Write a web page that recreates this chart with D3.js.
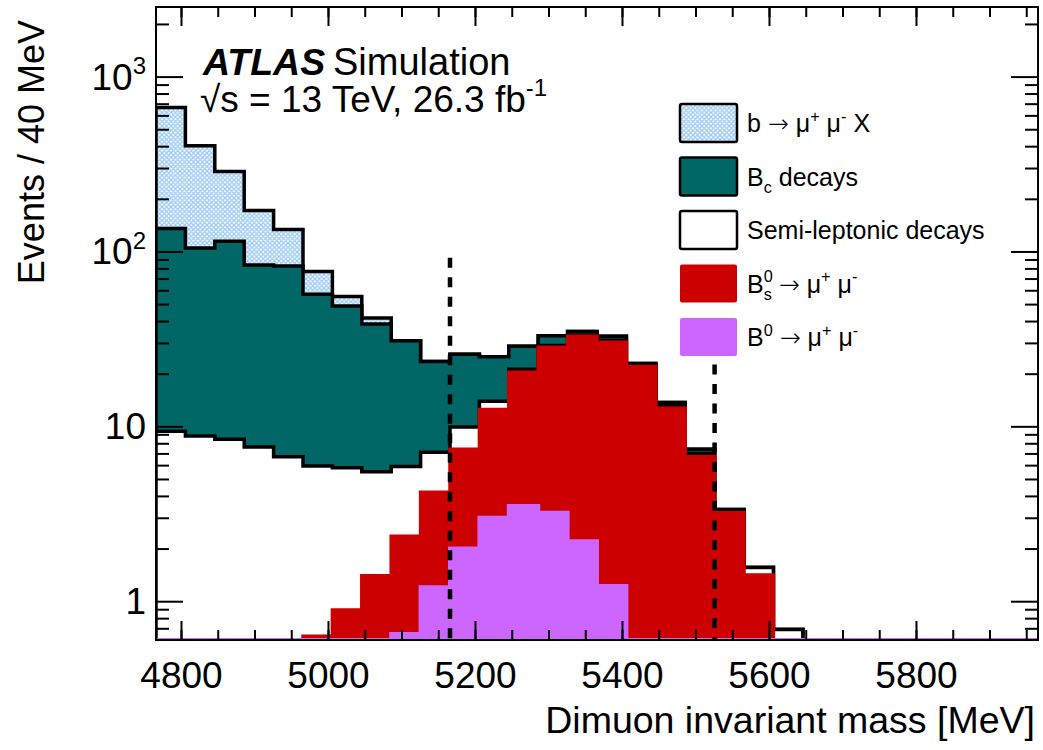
<!DOCTYPE html>
<html>
<head>
<meta charset="utf-8">
<script src="https://cdn.jsdelivr.net/npm/d3@7"></script>
<style>
  body { margin: 0; background: #fff; }
  text { font-family: "Liberation Sans", Arial, Helvetica, sans-serif; white-space: pre; }
</style>
</head>
<body>
<div id="chart"></div>
<script>
// bin edges (40 MeV bins)
const massEdges = [4766, 4806, 4846, 4886, 4926, 4966, 5006, 5046, 5086, 5126,
    5166, 5206, 5246, 5286, 5326, 5366, 5406, 5446, 5486, 5526,
    5566, 5606, 5646, 5686, 5726, 5766, 5806, 5846, 5886, 5926, 5966];

// events per bin
const bdMuMu = [0.02, 0.03, 0.04, 0.06, 0.1, 0.15, 0.25, 0.4, 0.65, 1.2,
    2.0, 3.0, 3.5, 3.2, 2.2, 1.22, 0.4, 0.2, 0.1, 0.05,
    0, 0, 0, 0, 0, 0, 0, 0, 0, 0];
const bsMuMu = [0.05, 0.07, 0.1, 0.15, 0.3, 0.48, 0.64, 1.0, 1.7, 3.0,
    5.4, 9.5, 16.9, 25.1, 30.5, 29.0, 21.6, 12.5, 6.6, 3.15,
    1.41, 0.3, 0.1, 0, 0, 0, 0, 0, 0, 0];
const semiLep = [9.3, 8.7, 8.3, 7.4, 6.3, 5.3, 4.9, 4.1, 3.55, 2.9,
    2.5, 1.4, 0.8, 0.7, 0.5, 0.8, 0.4, 0.4, 0.3, 0.1,
    0.15, 0.39, 0.2, 0, 0, 0, 0, 0, 0, 0];
const bcDecays = [126, 96, 106, 76, 76, 51, 43, 33, 25, 16.4,
    15.9, 11.1, 7.5, 4.0, 1.7, 1.7, 0.5, 0.6, 0.4, 0.05,
    0, 0, 0, 0, 0, 0, 0, 0, 0, 0];
const bMuMuX = [530, 298, 172, 88, 51, 20, 6.5, 3.2, 0, 0,
    0, 0, 0, 0, 0, 0, 0, 0, 0, 0,
    0, 0, 0, 0, 0, 0, 0, 0, 0, 0];

// signal window (dashed lines) and how high they reach
const windowMass = [5166, 5526];
const windowTop = [92, 22.6];

const xMajor = [4800, 5000, 5200, 5400, 5600, 5800];
const xMinor = [4800, 4850, 4900, 4950, 5000, 5050, 5100, 5150, 5200, 5250, 5300, 5350,
    5400, 5450, 5500, 5550, 5600, 5650, 5700, 5750, 5800, 5850, 5900, 5950];
const yMajor = [1, 10, 100, 1000];
const yLabels = ["1", "10", "10^{2}", "10^{3}"];
const yMinor = [0.7, 0.8, 0.9, 2, 3, 4, 5, 6, 7, 8, 9, 20, 30, 40, 50, 60, 70, 80, 90,
    200, 300, 400, 500, 600, 700, 800, 900, 2000];

const keys = ["bd", "bs", "semi", "bc", "bx"];
const legendLabels = ["b \u2192 \u03bc^{+} \u03bc^{-} X", "B_{c} decays", "Semi-leptonic decays",
    "B^{0}_{s} \u2192 \u03bc^{+} \u03bc^{-}", "B^{0} \u2192 \u03bc^{+} \u03bc^{-}"];
const legendKeys = ["bx", "bc", "semi", "bs", "bd"];

const fills = { bx: "url(#hatch)", bc: "#006666", semi: "#ffffff", bs: "#cc0000", bd: "#cc66ff" };
const strokes = { bx: "#000", bc: "#000", semi: "#000", bs: "#cc0000", bd: "#cc66ff" };

const width = 1043, height = 750;
const margin = { left: 156, top: 7, right: 5, bottom: 110 };
const yMin = 0.6, yMax = 2500;

const svg = d3.select("#chart").append("svg")
    .attr("width", width)
    .attr("height", height);

const x = d3.scaleLinear().domain([4766, 5966]).range([margin.left, width - margin.right]);
const y = d3.scaleLog().domain([yMin, yMax]).range([height - margin.bottom, margin.top]);

const defs = svg.append("defs");
const pat = defs.append("pattern")
    .attr("id", "hatch")
    .attr("patternUnits", "userSpaceOnUse")
    .attr("width", 4.5).attr("height", 4.5);
pat.append("rect").attr("width", 4.5).attr("height", 4.5).attr("fill", "#fff");
pat.append("path")
    .attr("d", "M0,0L4.5,4.5M4.5,0L0,4.5M-1,1L1,-1M3.5,5.5L5.5,3.5M-1,3.5L1,5.5M3.5,-1L5.5,1")
    .attr("stroke", "#9ccaf5").attr("stroke-width", 1.3);

defs.append("clipPath").attr("id", "plot-clip")
    .append("rect")
    .attr("x", margin.left).attr("y", margin.top)
    .attr("width", width - margin.left - margin.right)
    .attr("height", height - margin.top - margin.bottom);

// small helper for ROOT-like ^{} and _{} markup; arrows get a wider glyph
function richText(sel, str, size) {
    const re = /\^\{([^}]*)\}_\{([^}]*)\}|\^\{([^}]*)\}|_\{([^}]*)\}|(\u2192)|([^^_\u2192]+)/g;
    const small = size * 0.65, up = -size * 0.42, down = size * 0.28;
    let m, shift = 0;
    while ((m = re.exec(str))) {
        if (m[1] !== undefined) {
            const s1 = sel.append("tspan").attr("font-size", small).attr("dy", up - shift).text(m[1]);
            const w = s1.node().getComputedTextLength();
            sel.append("tspan").attr("font-size", small).attr("dx", -w).attr("dy", down - up).text(m[2]);
            shift = down;
        } else if (m[3] !== undefined) {
            sel.append("tspan").attr("font-size", small).attr("dy", up - shift).text(m[3]);
            shift = up;
        } else if (m[4] !== undefined) {
            sel.append("tspan").attr("font-size", small).attr("dy", down - shift).text(m[4]);
            shift = down;
        } else if (m[5] !== undefined) {
            sel.append("tspan").attr("dy", -shift)
                .style("font-family", "'DejaVu Sans', sans-serif")
                .attr("font-size", size)
                .attr("font-weight", 300)
                .text(m[5]);
            shift = 0;
        } else {
            sel.append("tspan").attr("dy", -shift).text(m[6]);
            shift = 0;
        }
    }
}

// stack the samples
const rows = massEdges.slice(0, -1).map((m, i) => ({
    mass: m, bd: bdMuMu[i], bs: bsMuMu[i], semi: semiLep[i], bc: bcDecays[i], bx: bMuMuX[i]
}));
const series = d3.stack().keys(keys)(rows);

function stepPoints(s) {
    const pts = [[x(massEdges[0]), y(yMin)]];
    s.forEach((d, i) => {
        const v = Math.max(d[1], yMin);
        pts.push([x(massEdges[i]), y(v)], [x(massEdges[i + 1]), y(v)]);
    });
    pts.push([x(massEdges[massEdges.length - 1]), y(yMin)]);
    return pts;
}

const line = d3.line();
const plot = svg.append("g").attr("clip-path", "url(#plot-clip)");

// ROOT draws the full stack first, then each lower sum on top
series.slice().reverse().forEach(s => {
    const pts = stepPoints(s);
    plot.append("path")
        .attr("d", line(pts) + "Z")
        .attr("fill", fills[s.key])
        .attr("stroke", "none");
    plot.append("path")
        .attr("d", line(pts))
        .attr("fill", "none")
        .attr("stroke", strokes[s.key])
        .attr("stroke-width", s.key === "bd" ? 4 : 3.5)
        .attr("stroke-linejoin", "miter");
});

// signal window
plot.selectAll(".window")
    .data(windowMass)
    .join("line")
    .attr("class", "window")
    .attr("x1", d => x(d)).attr("x2", d => x(d))
    .attr("y1", (d, i) => y(windowTop[i]))
    .attr("y2", y(yMin))
    .attr("stroke", "#000")
    .attr("stroke-width", 4.5)
    .attr("stroke-dasharray", "10,9.5");

// axes (ticks point inwards)
const bottomY = height - margin.bottom;
const rightX = width - margin.right;

function styleAxis(g) {
    g.select(".domain").remove();
    g.selectAll(".tick line").attr("stroke", "#000").attr("stroke-width", 2);
}

svg.append("g").attr("transform", `translate(0,${bottomY})`)
    .call(d3.axisBottom(x).tickValues(xMajor).tickSize(-19).tickPadding(22).tickFormat(d3.format("d")))
    .call(styleAxis)
    .call(g => g.selectAll("text")
        .attr("font-size", 37)
        .attr("fill", "#000")
        .attr("font-family", "Liberation Sans, Arial, sans-serif"));
svg.append("g").attr("transform", `translate(0,${bottomY})`)
    .call(d3.axisBottom(x).tickValues(xMinor).tickSize(-10).tickFormat(""))
    .call(styleAxis);
svg.append("g").attr("transform", `translate(0,${margin.top})`)
    .call(d3.axisTop(x).tickValues(xMajor).tickSize(-19).tickFormat(""))
    .call(styleAxis);
svg.append("g").attr("transform", `translate(0,${margin.top})`)
    .call(d3.axisTop(x).tickValues(xMinor).tickSize(-10).tickFormat(""))
    .call(styleAxis);

svg.append("g").attr("transform", `translate(${margin.left},0)`)
    .call(d3.axisLeft(y).tickValues(yMajor).tickSize(-27).tickFormat(""))
    .call(styleAxis);
svg.append("g").attr("transform", `translate(${margin.left},0)`)
    .call(d3.axisLeft(y).tickValues(yMinor).tickSize(-13).tickFormat(""))
    .call(styleAxis);
svg.append("g").attr("transform", `translate(${rightX},0)`)
    .call(d3.axisRight(y).tickValues(yMajor).tickSize(-27).tickFormat(""))
    .call(styleAxis);
svg.append("g").attr("transform", `translate(${rightX},0)`)
    .call(d3.axisRight(y).tickValues(yMinor).tickSize(-13).tickFormat(""))
    .call(styleAxis);

yMajor.forEach((v, i) => {
    const t = svg.append("text")
        .attr("x", margin.left - 10)
        .attr("y", y(v) + 13)
        .attr("text-anchor", "end")
        .attr("font-size", 37)
        .attr("fill", "#000");
    richText(t, yLabels[i], 37);
});

// frame
svg.append("rect")
    .attr("x", margin.left).attr("y", margin.top)
    .attr("width", rightX - margin.left)
    .attr("height", bottomY - margin.top)
    .attr("fill", "none")
    .attr("stroke", "#000")
    .attr("stroke-width", 2);

// axis titles
svg.append("text")
    .attr("x", rightX - 3).attr("y", 733)
    .attr("text-anchor", "end")
    .attr("font-size", 37.5)
    .text("Dimuon invariant mass [MeV]");
svg.append("text")
    .attr("transform", "translate(44,20) rotate(-90)")
    .attr("text-anchor", "end")
    .attr("font-size", 36)
    .text("Events / 40 MeV");

// ATLAS label
svg.append("text")
    .attr("x", 203).attr("y", 75)
    .attr("font-size", 37.5)
    .attr("font-weight", "bold")
    .attr("font-style", "italic")
    .text("ATLAS");
svg.append("text")
    .attr("x", 333).attr("y", 75)
    .attr("font-size", 38)
    .text("Simulation");
const lumi = svg.append("text")
    .attr("x", 200).attr("y", 112)
    .attr("font-size", 37);
richText(lumi, "\u221as = 13 TeV, 26.3 fb^{-1}", 37);

// legend
const legend = svg.append("g");
legendKeys.forEach((k, i) => {
    const cy = 123 + i * 53.5;
    const outlined = k === "bx" || k === "bc" || k === "semi";
    legend.append("rect")
        .attr("x", 680).attr("y", cy - 19)
        .attr("width", 57).attr("height", 38)
        .attr("rx", 2)
        .attr("fill", fills[k])
        .attr("stroke", outlined ? "#000" : "none")
        .attr("stroke-width", 2.5);
    const t = legend.append("text")
        .attr("x", 747).attr("y", cy + 9)
        .attr("font-size", 25);
    richText(t, legendLabels[i], 25);
});
</script>
</body>
</html>
